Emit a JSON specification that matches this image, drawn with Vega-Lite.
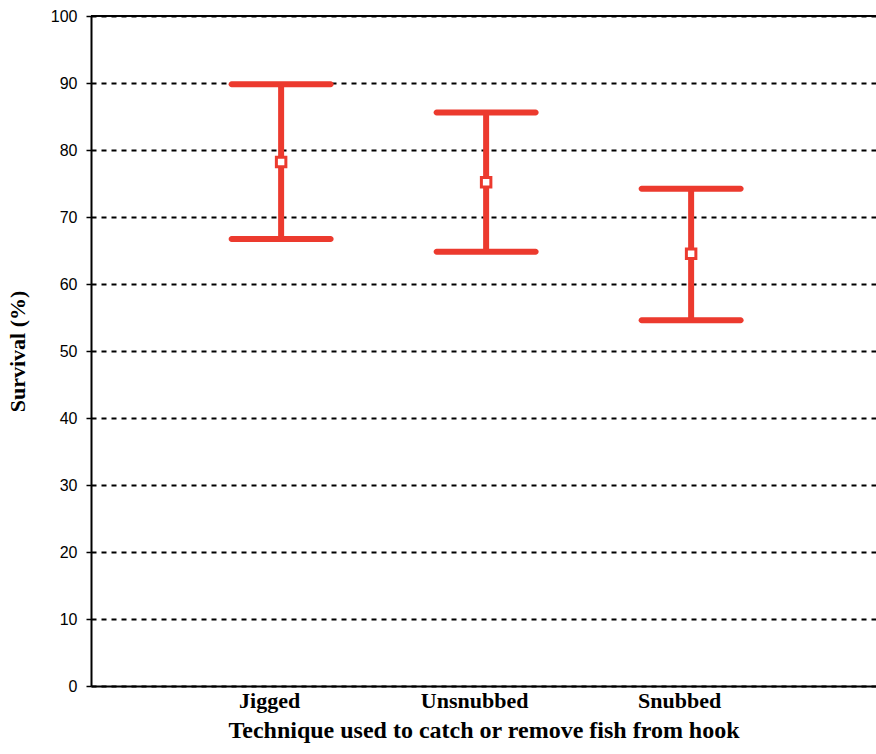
{
  "$schema": "https://vega.github.io/schema/vega-lite/v6.json",
  "autosize": "none",
  "width": 785,
  "height": 670,
  "padding": {"left": 91, "top": 16, "right": 0, "bottom": 68},
  "background": "white",
  "config": {"view": {"stroke": null}},
  "data": {"values": [
    {"technique": "Jigged", "mean": 78.2, "lower": 66.7, "upper": 89.8},
    {"technique": "Unsnubbed", "mean": 75.2, "lower": 64.8, "upper": 85.6},
    {"technique": "Snubbed", "mean": 64.5, "lower": 54.6, "upper": 74.2}
  ]},
  "encoding": {
    "x": {
      "field": "technique", "type": "nominal", "sort": null,
      "scale": {"type": "point", "padding": 0.9146, "align": 0.507},
      "axis": {
        "title": "Technique used to catch or remove fish from hook",
        "titleFont": "Liberation Serif", "titleFontWeight": "bold", "titleFontSize": 24, "titleColor": "black",
        "titlePadding": 7,
        "labelFont": "Liberation Serif", "labelFontWeight": "bold", "labelFontSize": 22, "labelColor": "black",
        "labelAngle": 0, "labelOffset": -12, "labelPadding": 4,
        "ticks": false, "domainColor": "black", "domainWidth": 2, "grid": false
      }
    }
  },
  "layer": [
    {
      "mark": {"type": "rule", "color": "black", "strokeWidth": 1.5},
      "encoding": {"x": null, "y": {"datum": 100, "type": "quantitative", "scale": {"domain": [0, 100], "nice": false}}}
    },
    {
      "mark": {"type": "rule", "color": "#ec3a2e", "strokeWidth": 6},
      "encoding": {
        "y": {"field": "lower", "type": "quantitative",
          "scale": {"domain": [0, 100], "nice": false},
          "axis": {
            "title": "Survival (%)",
            "titleFont": "Liberation Serif", "titleFontWeight": "bold", "titleFontSize": 22, "titleColor": "black",
            "titlePadding": 21,
            "values": [0, 10, 20, 30, 40, 50, 60, 70, 80, 90, 100],
            "labelFont": "Liberation Sans", "labelFontSize": 16, "labelColor": "black", "labelPadding": 9,
            "tickSize": 5, "tickColor": "black", "tickWidth": 1.5,
            "domainColor": "black", "domainWidth": 2,
            "grid": true, "gridColor": "black", "gridWidth": 1.8, "gridDash": [5, 5]
          }
        },
        "y2": {"field": "upper"}
      }
    },
    {
      "mark": {"type": "tick", "color": "#ec3a2e", "size": 105, "thickness": 6, "cornerRadius": 3, "opacity": 1},
      "encoding": {"y": {"field": "upper", "type": "quantitative"}}
    },
    {
      "mark": {"type": "tick", "color": "#ec3a2e", "size": 105, "thickness": 6, "cornerRadius": 3, "opacity": 1},
      "encoding": {"y": {"field": "lower", "type": "quantitative"}}
    },
    {
      "mark": {"type": "point", "shape": "square", "size": 90, "filled": true, "fill": "white", "stroke": "#ec3a2e", "strokeWidth": 3, "opacity": 1},
      "encoding": {"y": {"field": "mean", "type": "quantitative"}}
    }
  ]
}
